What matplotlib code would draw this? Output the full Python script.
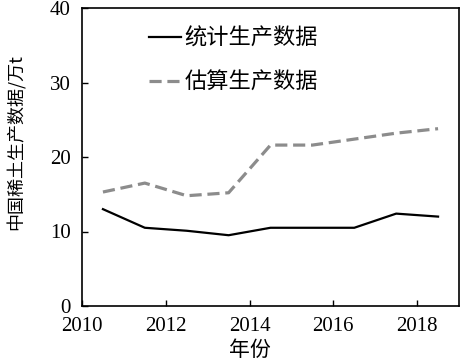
import matplotlib
matplotlib.use('Agg')
import matplotlib.pyplot as plt

# data
years = [2010.5, 2011.5, 2012.5, 2013.5, 2014.5, 2015.5, 2016.5, 2017.5, 2018.5]
stat_prod = [13.0, 10.5, 10.1, 9.5, 10.5, 10.5, 10.5, 12.4, 12.0]
est_prod = [15.3, 16.5, 14.8, 15.2, 21.6, 21.6, 22.4, 23.2, 23.8]
xticks = [2010, 2012, 2014, 2016, 2018]
yticks = [0, 10, 20, 30, 40]

plt.rcParams['font.family'] = ['Liberation Serif', 'Noto Sans CJK SC']

fig = plt.figure(figsize=(4.63, 3.61), dpi=100)
ax = fig.add_axes([82 / 463, 1 - 306 / 361, (459 - 82) / 463, (306 - 8) / 361])

ax.plot(years, stat_prod, color='black', lw=1.6, label='统计生产数据')
ax.plot(years, est_prod, color='#8c8c8c', lw=2.3, ls=(0, (3.8, 1.8)), label='估算生产数据')

ax.set_xlim(2010, 2019)
ax.set_ylim(0, 40)
ax.set_xticks(xticks)
ax.set_yticks(yticks)
ax.tick_params(direction='in', labelsize=15, length=4, width=1)
ax.tick_params(axis='y', pad=8)
ax.tick_params(axis='x', pad=8)
for s in ax.spines.values():
    s.set_linewidth(1.2)

fig.text(250 / 463, 1 - 350 / 361, '年份', fontsize=15, family=['Noto Sans CJK SC'],
         ha='center', va='center')
fig.text(16 / 463, 1 - 142 / 361, '中国稀土生产数据/万t', fontsize=13, rotation=90,
         family=['Noto Sans CJK SC', 'Liberation Serif'], ha='center', va='center')

leg = ax.legend(loc='upper left', bbox_to_anchor=(0.178, 0.937), frameon=False,
                prop={'family': 'Noto Sans CJK SC', 'size': 16},
                borderpad=0, borderaxespad=0,
                handlelength=1.45, handletextpad=0.15, labelspacing=0.95)

fig.savefig('out.png', dpi=100)
